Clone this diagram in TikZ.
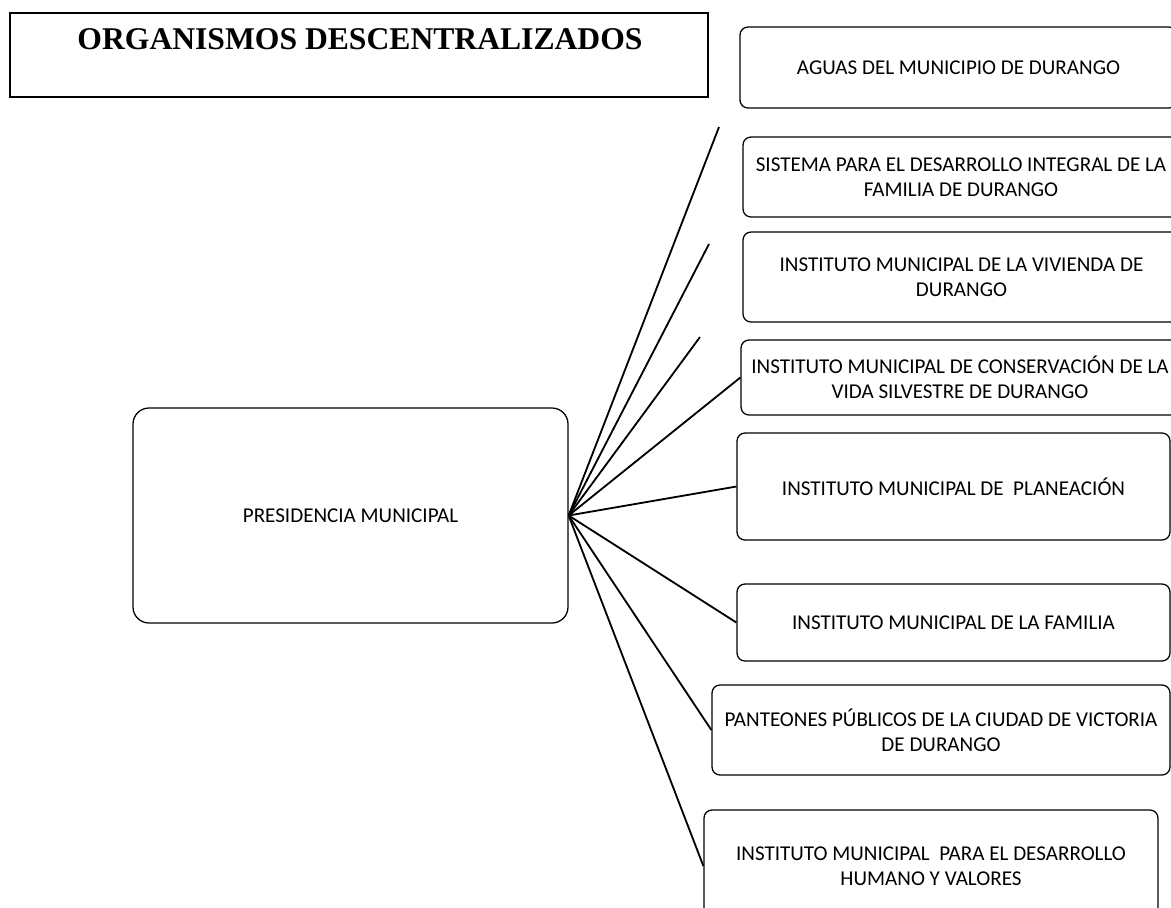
\documentclass[tikz,border=0pt]{standalone}
\usepackage{fontspec}
\setmainfont{Carlito}
\newfontfamily\titlefont{Liberation Serif}
\begin{document}
\begin{tikzpicture}[
  caja/.style={draw, rounded corners=0.2cm, line width=0.9pt, align=center, inner sep=1pt, font=\fontsize{15}{18}\selectfont},
  enlace/.style={line width=1.3pt}
]
% Page size
\useasboundingbox (0,0) rectangle (29.275,-22.675);

% Title
\draw[line width=2pt] (0.25,-0.325) rectangle (17.7,-2.425);
\node[font=\titlefont\bfseries\fontsize{22.5}{27}\selectfont] (titulo) at (9.0,-0.975) {ORGANISMOS DESCENTRALIZADOS};

% Main box
\node[caja, rounded corners=0.4cm, minimum width=10.875cm, minimum height=5.375cm] (presidencia) at (8.7625,-12.8875) {PRESIDENCIA MUNICIPAL};

% Boxes on the right
\node[caja, minimum width=10.925cm, minimum height=2.025cm] (aguas) at (23.9625,-1.6875) {AGUAS DEL MUNICIPIO DE DURANGO};
\node[caja, minimum width=10.9cm, minimum height=2.0cm] (sistema) at (24.025,-4.425) {SISTEMA PARA EL DESARROLLO INTEGRAL DE LA\\FAMILIA DE DURANGO};
\node[caja, minimum width=10.925cm, minimum height=2.25cm] (vivienda) at (24.0375,-6.925) {INSTITUTO MUNICIPAL DE LA VIVIENDA DE\\DURANGO};
\node[caja, minimum width=10.95cm, minimum height=1.875cm] (conservacion) at (24.0,-9.4375) {INSTITUTO MUNICIPAL DE CONSERVACIÓN DE LA\\VIDA SILVESTRE DE DURANGO};
\node[caja, minimum width=10.825cm, minimum height=2.675cm] (planeacion) at (23.8375,-12.1625) {INSTITUTO MUNICIPAL DE~~PLANEACIÓN};
\node[caja, minimum width=10.825cm, minimum height=1.925cm] (familia) at (23.8375,-15.5625) {INSTITUTO MUNICIPAL DE LA FAMILIA};
\node[caja, minimum width=11.45cm, minimum height=2.25cm] (panteones) at (23.525,-18.25) {PANTEONES PÚBLICOS DE LA CIUDAD DE VICTORIA\\DE DURANGO};
\node[caja, minimum width=11.35cm, minimum height=2.8cm] (desarrollo) at (23.275,-21.65) {INSTITUTO MUNICIPAL~~PARA EL DESARROLLO\\HUMANO Y VALORES};

% Free line ends
\coordinate (fin1) at (17.975,-3.175);
\coordinate (fin2) at (17.725,-6.1);
\coordinate (fin3) at (17.5,-8.425);

% Lines
\draw[enlace] (presidencia.east) -- (fin1);
\draw[enlace] (presidencia.east) -- (fin2);
\draw[enlace] (presidencia.east) -- (fin3);
\draw[enlace] (presidencia.east) -- (conservacion.west);
\draw[enlace] (presidencia.east) -- (planeacion.west);
\draw[enlace] (presidencia.east) -- (familia.west);
\draw[enlace] (presidencia.east) -- (panteones.west);
\draw[enlace] (presidencia.east) -- (desarrollo.west);
\end{tikzpicture}
\end{document}
